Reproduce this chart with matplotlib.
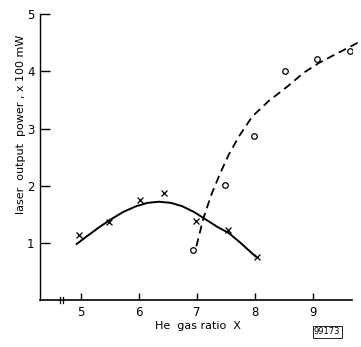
import matplotlib
matplotlib.use("Agg")
import matplotlib.pyplot as plt

# Data
x_ticks = [5, 6, 7, 8, 9]
y_ticks = [1, 2, 3, 4, 5]

cross_x = [4.97, 5.48, 6.02, 6.44, 6.99, 7.53, 8.03]
cross_y = [1.14, 1.37, 1.75, 1.87, 1.39, 1.23, 0.76]

circle_x = [6.93, 7.49, 7.98, 8.51, 9.06, 9.63]
circle_y = [0.87, 2.01, 2.87, 4.01, 4.22, 4.36]

solid_x = [4.93, 5.10, 5.30, 5.50, 5.73, 5.95, 6.15, 6.35, 6.55, 6.75, 6.95,
           7.15, 7.35, 7.55, 7.75, 8.01]
solid_y = [0.98, 1.11, 1.26, 1.40, 1.54, 1.64, 1.70, 1.72, 1.70, 1.64, 1.54,
           1.41, 1.28, 1.17, 1.00, 0.76]

dash_x = [6.99, 7.11, 7.25, 7.40, 7.55, 7.72, 7.95, 8.23, 8.56, 8.84, 9.10,
          9.40, 9.82]
dash_y = [0.94, 1.43, 1.85, 2.22, 2.55, 2.86, 3.21, 3.48, 3.74, 3.98, 4.15,
          4.31, 4.53]

plt.rcParams['font.family'] = ['DejaVu Sans']

fig = plt.figure(figsize=(3.61, 3.47), dpi=100)
ax = fig.add_axes([0.1108, 0.1354, 0.974 - 0.1108, 0.9588 - 0.1354])

ax.plot(solid_x, solid_y, color='black', lw=1.4, solid_joinstyle='round')
ax.plot(dash_x, dash_y, color='black', lw=1.3, ls=(0, (4.5, 2.8)),
        clip_on=False)
ax.plot(cross_x, cross_y, ls='none', marker='x', ms=4.5, mew=0.9, color='black')
ax.plot(circle_x, circle_y, ls='none', marker='o', ms=4, mew=0.9,
        mfc='white', mec='black', zorder=3)

ax.set_xlim(4.30, 9.66)
ax.set_ylim(0, 5)
ax.set_xticks(x_ticks)
ax.set_yticks(y_ticks)
ax.set_xticklabels([str(v) for v in x_ticks], fontsize=8.5)
ax.set_yticklabels([str(v) for v in y_ticks], fontsize=8.5)
ax.tick_params(axis='y', direction='in', length=7, width=1, pad=4)
ax.tick_params(axis='x', direction='in', length=5, width=1, pad=4)

for s in ['top', 'right']:
    ax.spines[s].set_visible(False)
ax.spines['left'].set_linewidth(1.0)
ax.spines['bottom'].set_linewidth(1.2)

# axis break marks on x axis
for bx in (4.64, 4.70):
    ax.plot([bx, bx], [-0.06, 0.06], color='black', lw=0.9, clip_on=False)

fig.text(21 / 361, 1 - 124 / 347, 'laser  output  power , x 100 mW',
         rotation=90, ha='center', va='center', fontsize=8)
fig.text(198 / 361, 1 - 326 / 347, 'He  gas ratio  X',
         ha='center', va='center', fontsize=8)
fig.text(327 / 361, 1 - 332 / 347, '99173', ha='center', va='center',
         fontsize=6,
         bbox=dict(boxstyle='square,pad=0.15', fc='white', ec='black', lw=0.6))

fig.savefig('out.png', dpi=100)
